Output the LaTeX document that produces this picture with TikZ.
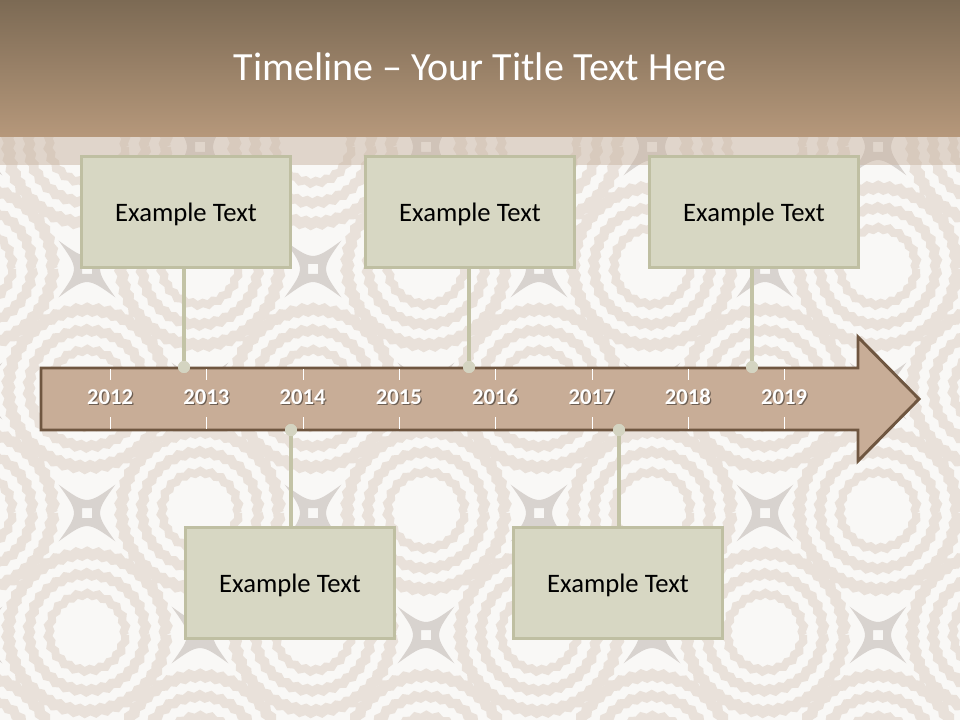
\documentclass[tikz,border=0pt]{standalone}
\usepackage{fontspec}
\setmainfont{Carlito}
\usetikzlibrary{positioning,decorations.pathmorphing}
\definecolor{barTop}{HTML}{7C6A54}
\definecolor{barBottom}{HTML}{B6987B}
\definecolor{bandcol}{HTML}{C9B4A2}
\definecolor{paper}{HTML}{F9F8F6}
\definecolor{ringcol}{HTML}{E9E1DA}
\definecolor{starcol}{HTML}{D8D3CF}
\definecolor{arrowfill}{HTML}{C8AD97}
\definecolor{arrowline}{HTML}{6F5640}
\definecolor{boxfill}{HTML}{D7D7C3}
\definecolor{boxline}{HTML}{BFBFA2}
\definecolor{stemcol}{HTML}{C3C3A6}
\definecolor{dotcol}{HTML}{D4D4C1}

\tikzset{
  eventbox/.style={draw=boxline, line width=2.2pt, fill=boxfill, inner sep=0pt,
    minimum width=157pt, minimum height=83pt, text depth=0pt,
    font=\fontsize{20}{24}\selectfont},
  stem/.style={draw=stemcol, line width=3pt},
  stemdot/.style={circle, fill=dotcol, minimum size=9pt, inner sep=0pt},
  yearlabel/.style={anchor=base, text=white, font=\fontsize{17}{20}\selectfont\bfseries},
  yearshadow/.style={yearlabel, text=black, opacity=0.45},
  tick/.style={draw=white, line width=0.8pt},
  ringband/.style={ringcol, decorate, decoration={snake, segment length=8pt, amplitude=1pt}},
}

\begin{document}
\begin{tikzpicture}[x=0.75pt, y=-0.75pt, line join=miter]
\useasboundingbox (0,0) rectangle (960,720);

% wallpaper
\begin{scope}
\clip (0,0) rectangle (960,720);
\fill[paper] (0,0) rectangle (960,720);
\foreach \row in {0,...,6} {
  \foreach \col in {0,...,9} {
    \pgfmathsetmacro\cx{-26+113*\col}
    \pgfmathsetmacro\cy{25+122*\row}
    \pgfmathtruncatemacro\kind{mod(\row+\col,2)}
    \ifnum\kind=0
      \draw[ringband, line width=6pt] (\cx,\cy) circle (28.5pt);
      \draw[ringband, line width=7pt] (\cx,\cy) circle (43.5pt);
      \draw[ringband, line width=8pt] (\cx,\cy) circle (59pt);
    \else
      \begin{scope}[shift={(\cx,\cy)}]
        \fill[starcol, even odd rule] (45:40) .. controls (90:8) .. (135:40)
          .. controls (180:8) .. (225:40) .. controls (270:8) .. (315:40)
          .. controls (0:8) .. cycle
          (-5,-5) rectangle (5,5);
      \end{scope}
    \fi
  }
}
\end{scope}

% title bar
\shade[top color=barTop, bottom color=barBottom] (0,0) rectangle (960,137);
\fill[bandcol, opacity=0.5] (0,137) rectangle (960,165);
\node[text=white, font=\fontsize{30}{36}\selectfont] (title) at (480,67) {Timeline – Your Title Text Here};

% timeline arrow
\draw[fill=arrowfill, draw=arrowline, line width=2.2pt]
  (41,368) -- (858,368) -- (858,337) -- (919,399) -- (858,461) -- (858,430) -- (41,430) -- cycle;

\foreach \yr [count=\i from 0] in {2012,...,2019} {
  \pgfmathsetmacro\yx{110+96.3*\i}
  \draw[tick] (\yx+0.6,369) -- (\yx+0.6,380);
  \draw[tick] (\yx+0.6,417) -- (\yx+0.6,429);
  \node[yearshadow] (s\yr) at (\yx+1.3,405.3) {\yr};
  \node[yearlabel] (y\yr) at (\yx,404) {\yr};
}

% stems and dots on the arrow
\node[stemdot] (d1) at (184,367) {};
\node[stemdot] (d2) at (469,367) {};
\node[stemdot] (d3) at (752,367) {};
\node[stemdot] (d4) at (291,430) {};
\node[stemdot] (d5) at (619,430) {};

% event boxes
\node[eventbox] (ev1) at (186,212) {Example Text};
\node[eventbox] (ev2) at (470,212) {Example Text};
\node[eventbox] (ev3) at (754,212) {Example Text};
\node[eventbox] (ev4) at (290,583) {Example Text};
\node[eventbox] (ev5) at (618,583) {Example Text};

\foreach \k in {1,...,3}
  \draw[stem] (d\k) -- (d\k |- ev\k.south);
\foreach \k in {4,5}
  \draw[stem] (d\k) -- (d\k |- ev\k.north);
\foreach \k in {1,...,5}
  \node[stemdot] at (d\k) {};
\end{tikzpicture}
\end{document}
